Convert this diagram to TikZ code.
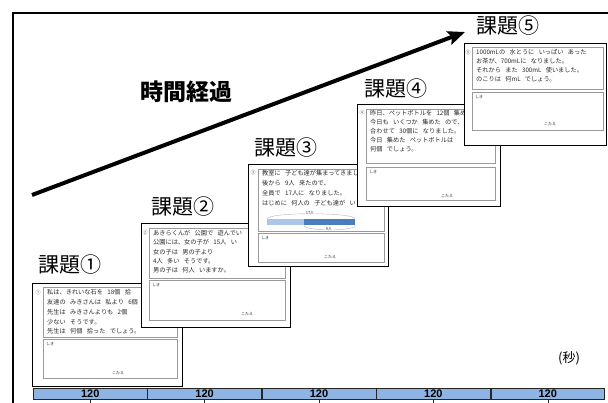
\documentclass[tikz,border=0pt]{standalone}
\usepackage{fontspec}
\newfontfamily\jp{Noto Sans CJK JP}
\newfontfamily\lib{Liberation Sans}
\usetikzlibrary{arrows.meta}
\definecolor{barblue}{HTML}{8DB4E2}
\definecolor{lightb}{HTML}{AAC6EA}
\definecolor{darkb}{HTML}{4A7CC0}
\definecolor{boxgray}{HTML}{9A9A9A}
\definecolor{txt}{HTML}{2A2A2A}
\newcommand\wsp{\hspace{0.7em}}
\tikzset{
  card/.style={draw=black, line width=1.1pt, fill=white, anchor=north west, inner sep=0pt},
  qbox/.style={draw=boxgray, line width=0.8pt, fill=white, anchor=north west, inner sep=0pt},
  qtext/.style={anchor=north west, inner sep=0pt, align=left, text=txt},
  tinylab/.style={inner sep=0pt, text=txt, font=\jp\fontsize{4}{4}\selectfont},
  numlab/.style={inner sep=0pt, text=txt!80, font=\jp\fontsize{5}{5}\selectfont},
  titlelab/.style={inner sep=0pt, anchor=west, font=\jp\fontsize{21}{21}\selectfont},
  cell/.style={draw=black!85, line width=0.6pt, fill=barblue, anchor=north west,
    minimum width=113.8pt, minimum height=11pt, inner sep=0pt,
    font=\lib\bfseries\fontsize{11}{11}\selectfont},
  frameline/.style={draw=black, line width=1.8pt},
  timearrow/.style={draw=black, line width=4pt, -{Stealth[length=17pt,width=14pt,inset=3pt]}},
  barline/.style={draw=gray!55, line width=0.4pt}
}
\begin{document}
\begin{tikzpicture}[x=1pt,y=-1pt]
\useasboundingbox (0,0) rectangle (608,403);
% outer frame
\coordinate (fbl) at (13,430);
\coordinate (ftr) at (640,13);
\draw[frameline] (fbl) |- (ftr);

% time arrow
\coordinate (atail) at (32,195);
\coordinate (atip) at (465,32);
\draw[timearrow] (atail) -- (atip);
\node[inner sep=0pt, font=\jp\bfseries\fontsize{23}{23}\selectfont] (elapsed) at (186,92) {時間経過};

% titles
\node[titlelab] (h1) at (38,265) {課題①};
\node[titlelab] (h2) at (151,207) {課題②};
\node[titlelab] (h3) at (254,148) {課題③};
\node[titlelab] (h4) at (364,89) {課題④};
\node[titlelab] (h5) at (476,26) {課題⑤};

% card 1
\node[card, minimum width=150pt, minimum height=103pt] (c1) at (32,283) {};
\node[qbox, minimum width=134pt, minimum height=50pt] (q1) at (43,287) {};
\node[qbox, minimum width=134pt, minimum height=39pt] (s1) at (43,339) {};
\node[numlab] (n1) at (38,293) {①};
\node[qtext, font=\jp\fontsize{6.2}{9.75}\selectfont] (t1) at (47,289.5)
  {私は、きれいな石を\wsp{}18個\wsp{}拾\\友達の\wsp{}みきさんは\wsp{}私より\wsp{}6個\\先生は\wsp{}みきさんよりも\wsp{}2個\\少ない\wsp{}そうです。\\先生は\wsp{}何個\wsp{}拾った\wsp{}でしょう。};
\node[tinylab, anchor=north west] (k1) at (46,342) {しき};
\node[tinylab] (a1) at (118,373) {こたえ};

% card 2
\node[card, minimum width=149pt, minimum height=104pt] (c2) at (141,223) {};
\node[qbox, minimum width=136pt, minimum height=50pt] (q2) at (149,228) {};
\node[qbox, minimum width=136pt, minimum height=40pt] (s2) at (149,280) {};
\node[numlab] (n2) at (145,233) {②};
\node[qtext, font=\jp\fontsize{6.2}{9.3}\selectfont] (t2) at (153,230)
  {あきらくんが\wsp{}公園で\wsp{}遊んでい\\公園には、女の子が\wsp{}15人\wsp{}い\\女の子は\wsp{}男の子より\\4人\wsp{}多い\wsp{}そうです。\\男の子は\wsp{}何人\wsp{}いますか。};
\node[tinylab, anchor=north west] (k2) at (152,283) {しき};
\node[tinylab] (a2) at (247,314) {こたえ};

% card 3
\node[card, minimum width=140pt, minimum height=102pt] (c3) at (248,164) {};
\node[qbox, minimum width=126pt, minimum height=62pt] (q3) at (258,169) {};
\node[qbox, minimum width=126pt, minimum height=29pt] (s3) at (258,233) {};
\node[numlab] (n3) at (253,173) {③};
\node[qtext, font=\jp\fontsize{6.2}{10}\selectfont] (t3) at (262,170.5)
  {教室に\wsp{}子ども達が集まってきまし\\後から\wsp{}9人\wsp{}来たので、\\全員で\wsp{}17人に\wsp{}なりました。\\はじめに\wsp{}何人の\wsp{}子ども達が\wsp{}い};
\node[fill=lightb, anchor=north west, inner sep=0pt, minimum width=37pt, minimum height=6pt] (bl) at (267,219) {};
\node[fill=darkb, anchor=north west, inner sep=0pt, minimum width=51pt, minimum height=6pt] (bd) at (304,219) {};
\draw[barline] (bl.north west) .. controls +(0,-7) and +(0,-7) .. (bd.north east);
\draw[barline] (bd.south west) .. controls +(0,6) and +(0,6) .. (bd.south east);
\node[tinylab, fill=white, inner sep=0.5pt] (l17) at (310,213.5) {17人};
\node[tinylab, fill=white, inner sep=0.5pt] (l9) at (329,229) {9人};
\node[tinylab, anchor=north west] (k3) at (261,236) {しき};
\node[tinylab] (a3) at (330,257) {こたえ};

% card 4
\node[card, minimum width=143pt, minimum height=102pt] (c4) at (357,104) {};
\node[qbox, minimum width=129pt, minimum height=54pt] (q4) at (366,109) {};
\node[qbox, minimum width=129pt, minimum height=33pt] (s4) at (366,167) {};
\node[numlab] (n4) at (362,113) {④};
\node[qtext, font=\jp\fontsize{6.2}{8.8}\selectfont] (t4) at (370,110.5)
  {昨日、ペットボトルを\wsp{}12個\wsp{}集め\\今日も\wsp{}いくつか\wsp{}集めた\wsp{}ので、\\合わせて\wsp{}30個に\wsp{}なりました。\\今日\wsp{}集めた\wsp{}ペットボトルは\\何個\wsp{}でしょう。};
\node[tinylab, anchor=north west] (k4) at (369,170) {しき};
\node[tinylab] (a4) at (447,196) {こたえ};

% card 5
\node[card, minimum width=142pt, minimum height=102pt] (c5) at (464,43) {};
\node[qbox, minimum width=131pt, minimum height=42pt] (q5) at (472,47) {};
\node[qbox, minimum width=131pt, minimum height=38pt] (s5) at (472,92) {};
\node[numlab] (n5) at (468,53) {⑤};
\node[qtext, font=\jp\fontsize{6.2}{9}\selectfont] (t5) at (476,49.5)
  {1000mLの\wsp{}水とうに\wsp{}いっぱい\wsp{}あった\\お茶が、700mLに\wsp{}なりました。\\それから\wsp{}また\wsp{}300mL\wsp{}使いました。\\のこりは\wsp{}何mL\wsp{}でしょう。};
\node[tinylab, anchor=north west] (k5) at (475,95) {しき};
\node[tinylab] (a5) at (550,124) {こたえ};

% unit
\node[inner sep=0pt, font=\jp\fontsize{13}{13}\selectfont] (unit) at (569,358) {(秒)};

% time bar
\node[cell] (b1) at (33,388) {120};
\node[cell] (b2) at (b1.north east) {120};
\node[cell] (b3) at (b2.north east) {120};
\node[cell] (b4) at (b3.north east) {120};
\node[cell] (b5) at (b4.north east) {120};
\foreach \i in {1,...,5} { \draw[black!85, line width=0.6pt] (b\i.south) -- ++(0,5); }
\end{tikzpicture}
\end{document}
